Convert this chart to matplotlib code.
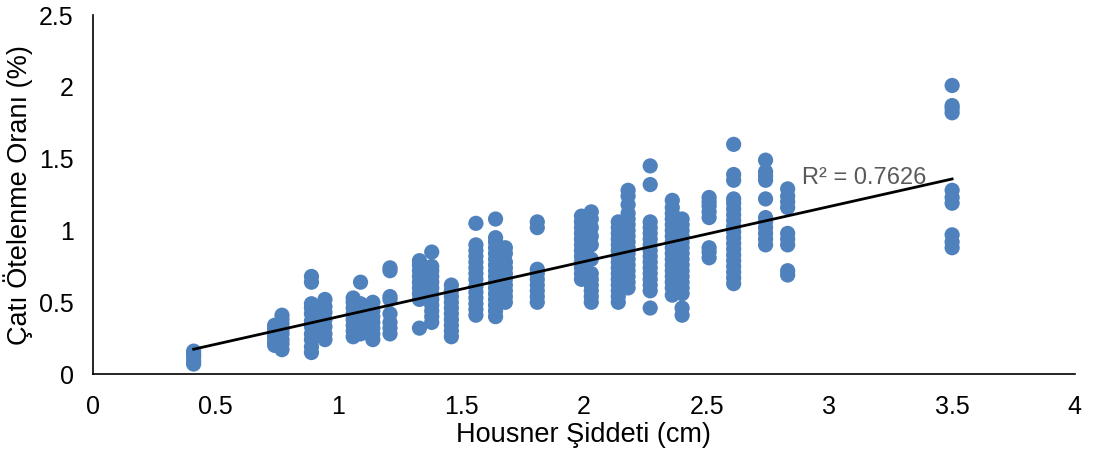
import numpy as np
import matplotlib.pyplot as plt

plt.rcParams['font.family'] = ['Liberation Sans', 'DejaVu Sans']

# Housner şiddeti gruplarına göre çatı ötelenme oranları
x_groups = [0.41, 0.74, 0.77, 0.89, 0.945, 1.06, 1.09, 1.14, 1.21, 1.33, 1.38,
            1.46, 1.56, 1.64, 1.68, 1.81, 1.99, 2.03, 2.14, 2.18, 2.27, 2.36,
            2.40, 2.51, 2.61, 2.74, 2.83, 3.50]
y_groups = [
    [0.07, 0.09, 0.12, 0.14, 0.16],
    [0.20, 0.22, 0.25, 0.27, 0.30, 0.32, 0.34],
    [0.17, 0.21, 0.24, 0.28, 0.31, 0.35, 0.38, 0.41],
    [0.15, 0.19, 0.24, 0.28, 0.33, 0.37, 0.42, 0.46, 0.49, 0.64, 0.68],
    [0.24, 0.28, 0.33, 0.38, 0.43, 0.47, 0.52],
    [0.26, 0.30, 0.34, 0.38, 0.42, 0.46, 0.50, 0.53],
    [0.28, 0.33, 0.37, 0.41, 0.45, 0.49, 0.64],
    [0.24, 0.28, 0.32, 0.36, 0.40, 0.44, 0.50],
    [0.28, 0.32, 0.36, 0.42, 0.52, 0.54, 0.72, 0.74],
    [0.32, 0.52, 0.56, 0.60, 0.64, 0.68, 0.72, 0.76, 0.79],
    [0.36, 0.40, 0.44, 0.48, 0.52, 0.56, 0.60, 0.64, 0.68, 0.72, 0.75, 0.85],
    [0.26, 0.30, 0.34, 0.38, 0.42, 0.46, 0.50, 0.54, 0.58, 0.62],
    [0.41, 0.45, 0.49, 0.53, 0.57, 0.61, 0.66, 0.70, 0.74, 0.78, 0.82, 0.86,
     0.90, 1.05],
    [0.40, 0.44, 0.48, 0.52, 0.56, 0.60, 0.64, 0.68, 0.72, 0.76, 0.80, 0.84,
     0.88, 0.92, 0.95, 1.08],
    [0.50, 0.54, 0.58, 0.62, 0.66, 0.70, 0.74, 0.78, 0.84, 0.88],
    [0.50, 0.54, 0.58, 0.62, 0.66, 0.70, 0.73, 1.02, 1.06],
    [0.66, 0.70, 0.74, 0.78, 0.82, 0.86, 0.90, 0.94, 0.98, 1.02, 1.06, 1.10],
    [0.50, 0.54, 0.58, 0.62, 0.66, 0.70, 0.80, 0.90, 0.96, 1.02, 1.08, 1.13],
    [0.50, 0.54, 0.58, 0.62, 0.66, 0.70, 0.74, 0.78, 0.82, 0.86, 0.90, 0.94,
     0.98, 1.02, 1.06],
    [0.60, 0.64, 0.68, 0.72, 0.76, 0.80, 0.84, 0.88, 0.92, 0.96, 1.00, 1.04,
     1.08, 1.12, 1.18, 1.24, 1.28],
    [0.46, 0.58, 0.62, 0.66, 0.70, 0.74, 0.78, 0.82, 0.86, 0.90, 0.94, 0.98,
     1.02, 1.06, 1.32, 1.45],
    [0.55, 0.60, 0.64, 0.68, 0.72, 0.76, 0.80, 0.84, 0.88, 0.92, 0.96, 1.00,
     1.04, 1.08, 1.12, 1.16, 1.21],
    [0.41, 0.46, 0.56, 0.60, 0.64, 0.68, 0.72, 0.76, 0.80, 0.84, 0.88, 0.92,
     0.96, 1.00, 1.04, 1.08],
    [0.81, 0.85, 0.88, 1.09, 1.13, 1.17, 1.20, 1.23],
    [0.63, 0.67, 0.71, 0.75, 0.79, 0.83, 0.87, 0.91, 0.95, 0.99, 1.03, 1.07,
     1.11, 1.15, 1.19, 1.22, 1.35, 1.39, 1.60],
    [0.90, 0.94, 0.98, 1.02, 1.06, 1.09, 1.22, 1.35, 1.38, 1.41, 1.49],
    [0.69, 0.72, 0.90, 0.94, 0.98, 1.16, 1.20, 1.24, 1.29],
    [0.88, 0.92, 0.97, 1.19, 1.23, 1.28, 1.82, 1.85, 1.87, 2.01],
]
r2_text = "R² = 0.7626"

x = np.concatenate([[xv] * len(ys) for xv, ys in zip(x_groups, y_groups)])
y = np.concatenate(y_groups)

fig = plt.figure(figsize=(10.94, 4.59), dpi=100)
ax = fig.add_axes([0.085, 0.185, 0.8975, 0.782])

ax.scatter(x, y, s=120, color='#4F81BD', edgecolors='none', zorder=2)

# doğrusal eğilim çizgisi
slope, intercept = np.polyfit(x, y, 1)
xl = np.array([x.min(), x.max()])
ax.plot(xl, slope * xl + intercept, color='black', lw=2, zorder=3)
ax.text(2.89, 1.365, r2_text, fontsize=17, color='#595959',
        ha='left', va='center', zorder=4)

ax.set_xlim(0, 4)
ax.set_ylim(0, 2.5)
ax.set_xticks(np.arange(0, 4.01, 0.5))
ax.set_yticks(np.arange(0, 2.51, 0.5))
ax.set_xticklabels(['0', '0.5', '1', '1.5', '2', '2.5', '3', '3.5', '4'])
ax.set_yticklabels(['0', '0.5', '1', '1.5', '2', '2.5'])
ax.tick_params(length=0, labelsize=18)
ax.tick_params(axis='x', pad=15)
ax.tick_params(axis='y', pad=14)

for side in ['top', 'right']:
    ax.spines[side].set_visible(False)
for side in ['left', 'bottom']:
    ax.spines[side].set_linewidth(1.2)

ax.set_xlabel("Housner Şiddeti (cm)", fontsize=19.5, labelpad=2)
ax.set_ylabel("Çatı Ötelenme Oranı (%)", fontsize=19.5, labelpad=4)

plt.savefig("out.png", dpi=100)
